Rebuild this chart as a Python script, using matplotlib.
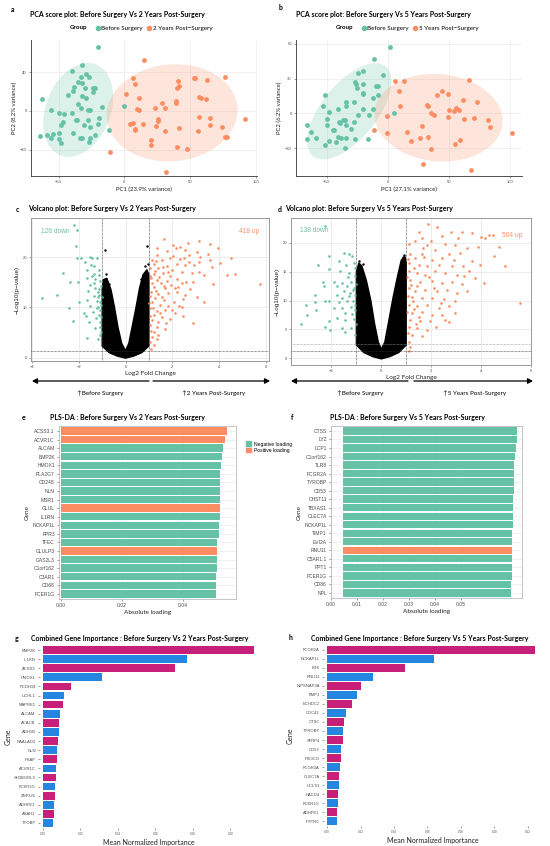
import numpy as np
import matplotlib
matplotlib.use('Agg')
import matplotlib.pyplot as plt
from matplotlib.patches import Ellipse, Patch, FancyArrowPatch
from matplotlib.lines import Line2D

W, H = 550, 846
GREEN = '#66C2A5'
ORANGE = '#FC8D62'
MAG = '#C8207A'
BLUE = '#2586E2'
TXT = '#4D4D4D'
TITLE_FONT = ['Lato', 'DejaVu Sans']
TICK_FONT = ['Liberation Sans', 'DejaVu Sans']

# ---------------- data: PCA (a) ----------------
a_before = np.array([
    [-20, 66], [-32, 47], [-40, 41], [-29, 38], [-33, 35], [-27, 35], [-35, 30], [-32, 29],
    [-38, 25], [-30, 24], [-24, 24], [-22, 24], [-39, 21], [-24, 19], [-43, 16], [-32, 15],
    [-29, 13], [-63, 12], [-17, 4], [-35, 7], [-33, 3], [-28, 1], [-26, 1], [-56, 1],
    [-50, -2], [-40, -2], [-37, -9], [-36, -9], [-28, -9], [-46, -3], [-47, -11], [-48, -15],
    [-19, -7], [-31, -15], [-20, -13], [-26, -17], [-50, -23], [-39, -23], [-12, -20],
    [-64, -26], [-59, -25], [-56, -28], [-54, -24], [-50, -29], [-34, -28], [-32, -28],
    [-26, -28], [-22, -25], [-48, -33], [-27, -32], [0, 5]])
a_after = np.array([
    [15, 52], [7, 34], [8, 28], [54, 34], [53, 34], [63, 32], [77, 35], [41, 31], [42, 26],
    [40, 24], [1, 17], [11, 13], [57, 14], [58, 13], [62, 12], [29, 8], [39, 10], [39, 8],
    [23, 3], [31, 3], [10, 2], [11, 1], [65, -7], [57, -6], [26, -8], [26, -10], [92, -8],
    [7, -12], [4, -13], [14, -13], [24, -16], [65, -15], [8, -19], [8, -20], [42, -18],
    [74, -17], [31, -21], [56, -21], [77, -27], [78, -27], [20, -30], [20, -35], [40, -37],
    [48, -39], [-11, -42], [32, -63]])

# ---------------- data: PCA (b) ----------------
b_before = np.array([
    [1.6, 57.6], [-11, 47], [-20, 37], [-24, 35], [-4, 33], [-27, 27], [-26, 25], [-25, 22],
    [-20, 25], [-20, 18], [-20, 17], [-10, 24], [-8, 24], [-8, 16], [-12, 13], [-51, 16],
    [-34, 10], [-28, 10], [-34, 6], [-41, 4], [-53, 6], [-20, 4], [-12, 4], [-24, -1],
    [-15, -1], [5, 0], [-48, 1], [-50, -5], [-40, -7], [-37, -6], [-35, -6], [-34, -10],
    [-39, -8], [-28, -7], [-50, -10], [-30, -13], [-45, -14], [-44, -14], [-66, -10],
    [-63, -16], [-59, -21], [-66, -22], [-41, -20], [-38, -21], [-34, -21], [-27, -22],
    [-16, -22], [-48, -24], [-42, -25], [-51, -27], [-35, -30]])
b_after = np.array([
    [-11, -14], [6, 28], [13, 28], [9, 19], [10, 6], [-1, -2], [-1, -17], [66, 29], [40, 16],
    [44, 19], [49, 17], [61, 12], [73, 10], [32, 7], [33, 6], [50, 3], [58, 3], [56, 5],
    [54, 2], [35, 0], [38, -1], [49, -3], [62, -5], [70, -4], [82, -6], [83, -12], [28, -11],
    [16, -16], [19, -24], [26, -21], [33, -20], [59, -23], [55, -26], [35, -31], [101, -17],
    [29, -44], [68, -49]])

# ---------------- data: volcano (c) ----------------
c_down = np.array([
    [-2.21, 26.5], [-2.06, 25.4], [-2.11, 22.3], [-2.06, 19.8], [-1.9, 19.8], [-1.54, 20.1],
    [-1.44, 19.8], [-1.23, 19.8], [-1.73, 19.1], [-1.5, 18.5], [-1.34, 18.3], [-2.67, 16.9],
    [-1.66, 17.5], [-1.33, 16.7], [-1.14, 16.5], [-1.63, 15.8], [-1.31, 15.6], [-1.09, 15.3],
    [-2.4, 15.0], [-2.03, 15.0], [-1.51, 14.5], [-1.29, 13.8], [-1.13, 13.7], [-3.6, 11.9],
    [-2.94, 12.5], [-1.34, 12.3], [-1.14, 12.5], [-1.63, 11.5], [-1.23, 11.3], [-2.0, 11.0],
    [-1.09, 11.0], [-1.51, 10.3], [-2.44, 9.8], [-1.23, 9.8], [-1.09, 9.5], [-1.76, 8.8],
    [-1.14, 8.5], [-2.23, 7.3], [-1.57, 7.1], [-1.09, 7.1], [-1.3, 5.9], [-1.63, 4.0],
    [-1.09, 4.5], [-1.16, 3.7], [-1.09, 6.1], [-1.7, 8.3], [-1.05, 14.2], [-1.2, 12.0],
    [-1.04, 10.5], [-1.18, 10.0], [-1.06, 8.0], [-1.25, 7.8], [-1.4, 9.0], [-1.02, 12.0],
    [-1.35, 14.8], [-1.12, 17.5], [-1.45, 16.2], [-1.03, 5.2], [-1.2, 13.0], [-1.6, 13.2]])
c_up = np.array([
    [3.17, 23.3], [3.63, 22.6], [2.67, 22.9], [2.34, 22.1], [1.63, 23.6], [2.03, 22.5],
    [3.97, 21.8], [3.53, 20.7], [3.06, 21.0], [2.53, 21.5], [2.17, 21.8], [1.34, 21.9],
    [1.77, 21.3], [2.71, 20.5], [3.2, 20.1], [1.34, 20.5], [4.54, 19.8], [3.13, 19.1],
    [2.74, 19.1], [2.34, 19.7], [1.91, 19.8], [1.56, 19.5], [1.13, 19.5], [1.2, 18.6],
    [1.77, 18.3], [2.2, 18.7], [2.56, 18.5], [2.94, 18.5], [3.69, 18.1], [4.06, 18.8],
    [1.06, 17.8], [1.41, 17.8], [1.99, 17.5], [2.41, 17.1], [1.84, 17.0], [1.6, 16.8],
    [1.23, 16.6], [2.84, 16.8], [3.17, 17.1], [4.34, 16.5], [3.37, 16.5], [1.1, 15.8],
    [1.34, 15.5], [1.77, 15.3], [2.2, 15.7], [2.6, 15.1], [1.51, 14.8], [1.97, 14.5],
    [2.41, 14.8], [2.91, 15.0], [3.77, 14.6], [5.76, 14.6], [1.23, 14.1], [1.7, 13.8],
    [1.09, 13.1], [1.41, 12.6], [1.84, 12.8], [2.2, 13.0], [2.56, 12.5], [3.06, 12.1],
    [1.27, 11.8], [1.63, 11.5], [2.06, 11.1], [2.46, 11.7], [1.13, 11.0], [1.49, 10.5],
    [1.84, 10.3], [3.37, 11.1], [1.06, 9.8], [1.34, 9.3], [1.7, 9.5], [2.41, 10.0],
    [2.13, 8.8], [1.2, 8.5], [1.56, 8.1], [2.46, 8.3], [1.13, 7.5], [1.41, 7.1], [1.91, 7.7],
    [2.91, 6.9], [1.06, 6.5], [1.34, 6.1], [1.7, 5.8], [1.23, 5.1], [1.13, 4.1], [1.34, 3.7],
    [1.06, 3.1], [1.2, 2.5], [1.09, 1.8], [1.05, 16.2], [1.15, 14.9], [1.3, 13.3],
    [1.05, 12.2], [1.45, 16.0], [1.25, 17.3], [1.55, 12.0], [1.02, 10.8], [1.18, 9.9],
    [1.48, 8.8], [1.03, 8.2], [1.08, 5.4], [1.65, 14.2], [1.9, 16.2], [2.1, 13.9],
    [2.3, 10.2], [1.6, 18.0], [2.05, 20.3], [2.5, 19.9], [4.7, 16.7], [3.62, 19.5],
    [1.32, 19.2], [1.75, 6.8], [2.0, 9.5], [1.4, 4.6], [2.25, 14.0], [2.75, 13.7]])
# envelope of the dense cloud of non-significant genes (|log2FC| < 1)
c_vshape = np.array([
    [0.0, -0.1], [-0.35, 0.3], [-0.7, 1.0], [-1.0, 2.3], [-1.0, 13.5], [-0.95, 15.5],
    [-0.8, 15.8], [-0.62, 13.5], [-0.47, 10.0], [-0.32, 6.0], [-0.16, 2.8], [0.0, 1.4],
    [0.14, 2.8], [0.3, 6.5], [0.45, 10.0], [0.6, 13.8], [0.75, 16.5], [0.92, 17.5],
    [1.0, 16.5], [1.0, 2.3], [0.7, 1.0], [0.35, 0.3]])
c_ns = np.array([[-0.9, 21.5], [0.93, 22.3], [-0.85, 16.6], [0.85, 18.2], [-0.97, 14.6],
                 [0.98, 18.6], [-0.7, 14.7], [0.65, 15.6]])

# ---------------- data: volcano (d) ----------------
d_down = np.array([
    [-2.25, 22.9], [-2.11, 17.7], [-2.54, 16.2], [-1.5, 18.3], [-1.31, 18.0], [-1.18, 17.7],
    [-1.71, 16.8], [-1.4, 16.2], [-1.11, 16.5], [-2.11, 15.5], [-1.64, 15.1], [-1.28, 14.8],
    [-1.07, 14.2], [-2.34, 13.2], [-1.91, 13.2], [-1.58, 13.0], [-1.2, 13.3], [-2.31, 12.5],
    [-1.78, 12.6], [-1.38, 12.5], [-1.11, 12.2], [-2.65, 11.0], [-1.51, 11.6], [-1.24, 11.3],
    [-1.04, 11.0], [-1.78, 11.0], [-2.25, 9.9], [-2.11, 10.0], [-3.01, 9.3], [-2.67, 9.7],
    [-1.58, 10.4], [-1.38, 9.9], [-1.15, 10.0], [-2.98, 7.5], [-2.62, 8.4], [-1.91, 8.7],
    [-1.58, 8.7], [-1.23, 8.8], [-1.07, 8.4], [-3.22, 5.9], [-2.11, 6.4], [-1.78, 7.0],
    [-1.44, 6.7], [-1.11, 6.8], [-2.25, 5.5], [-1.58, 5.3], [-1.2, 5.2], [-1.44, 4.5],
    [-1.04, 4.1], [-2.05, 4.9], [-1.05, 9.2], [-1.12, 11.8], [-1.3, 10.8], [-1.03, 12.8],
    [-1.16, 7.6], [-1.32, 14.0], [-1.06, 15.6], [-1.45, 7.9], [-1.7, 9.8], [-1.02, 6.0]])
d_up = np.array([
    [1.87, 23.2], [2.25, 22.8], [2.79, 21.9], [1.52, 21.9], [3.24, 21.9], [2.43, 21.2],
    [3.64, 21.7], [4.0, 21.0], [4.14, 20.8], [4.3, 21.4], [4.47, 21.4], [3.07, 20.9],
    [1.1, 19.8], [1.36, 20.3], [2.0, 20.3], [2.57, 19.8], [2.97, 19.7], [4.71, 19.3],
    [1.66, 19.1], [2.17, 18.8], [3.44, 19.1], [3.88, 19.2], [1.16, 18.1], [1.63, 18.0],
    [2.7, 18.0], [3.17, 18.3], [4.51, 17.7], [1.36, 17.4], [2.03, 17.1], [2.43, 17.4],
    [3.64, 16.8], [4.97, 15.9], [1.1, 16.5], [1.5, 16.2], [1.83, 15.9], [2.3, 16.2],
    [2.83, 15.9], [3.28, 15.9], [3.97, 16.2], [1.1, 15.1], [1.43, 14.8], [1.76, 14.5],
    [2.17, 15.1], [2.57, 14.8], [3.03, 14.5], [3.5, 15.1], [3.77, 13.9], [1.16, 13.6],
    [1.56, 13.2], [2.03, 13.4], [2.43, 13.0], [2.83, 13.3], [3.24, 12.8], [4.1, 13.0],
    [1.1, 12.2], [1.36, 11.6], [1.76, 11.9], [2.23, 11.6], [2.63, 11.9], [3.03, 11.3],
    [3.44, 11.6], [1.23, 10.7], [1.63, 10.4], [2.03, 10.4], [2.5, 10.3], [2.97, 10.0],
    [5.57, 9.6], [1.1, 9.3], [1.43, 9.0], [1.83, 9.3], [2.3, 8.7], [2.7, 9.0], [1.23, 7.8],
    [1.63, 8.0], [2.03, 7.5], [2.43, 7.5], [2.97, 7.8], [1.16, 6.7], [1.56, 6.4], [1.97, 6.5],
    [2.57, 6.7], [2.7, 6.3], [1.1, 5.5], [1.43, 5.2], [1.83, 4.9], [1.23, 4.1], [1.63, 3.8],
    [1.1, 2.9], [1.16, 2.0], [1.1, 1.2], [1.04, 14.0], [1.3, 15.6], [1.05, 10.8],
    [1.2, 12.7], [1.03, 8.1], [1.33, 8.6], [1.06, 17.2], [1.45, 12.5], [1.26, 9.9],
    [1.9, 14.1], [1.7, 17.5], [2.1, 12.2], [1.5, 7.1], [1.08, 4.3], [1.85, 19.7],
    [2.4, 9.6], [3.3, 14.2], [2.9, 17.1], [1.65, 20.9], [1.38, 5.9], [2.2, 5.5]])
d_vshape = np.array([
    [0.0, -0.1], [-0.35, 0.3], [-0.7, 1.0], [-1.0, 2.3], [-1.0, 15.0], [-0.9, 16.5],
    [-0.78, 16.0], [-0.6, 13.5], [-0.42, 10.0], [-0.27, 6.0], [-0.12, 2.8], [0.0, 1.6],
    [0.14, 2.8], [0.3, 6.5], [0.47, 10.5], [0.64, 14.0], [0.8, 17.0], [0.95, 17.6],
    [1.0, 16.5], [1.0, 2.3], [0.7, 1.0], [0.35, 0.3]])
d_ns = np.array([[-0.88, 16.8], [-0.75, 16.4], [0.9, 17.9], [0.85, 17.5], [-0.95, 15.8]])

# ---------------- data: PLS-DA (e, f) ----------------
e_genes = ['ACSS3.1', 'ACVR1C', 'ALCAM', 'BMP2K', 'HMOX1', 'PLA2G7', 'CD248', 'NLN', 'MSR1',
           'GLUL', 'IL1RN', 'NCKAP1L', 'FPR3', 'TFEC', 'GLULP3', 'GAS2L3', 'C1orf162',
           'C3AR1', 'CD68', 'FCER1G']
e_loading = [0.0544, 0.0538, 0.0531, 0.0528, 0.0525, 0.0522, 0.0522, 0.0522, 0.0521, 0.0521,
             0.0520, 0.0518, 0.0518, 0.0513, 0.0513, 0.0512, 0.0511, 0.0508, 0.0508, 0.0508]
e_positive = ['ACSS3.1', 'ACVR1C', 'GLUL', 'GLULP3']

f_genes = ['CTSS', 'LYZ', 'LCP1', 'C1orf162', 'TLR8', 'FCGR2A', 'TYROBP', 'CD53', 'CHST11',
           'TBXAS1', 'CLEC7A', 'NCKAP1L', 'TIMP1', 'EVI2A', 'RNU11', 'C5AR1.1', 'PPT1',
           'FCER1G', 'CD86', 'NPL']
f_loading = [0.0714, 0.0713, 0.0712, 0.0708, 0.0704, 0.0703, 0.0703, 0.0703, 0.0701, 0.0701,
             0.0700, 0.0700, 0.0697, 0.0697, 0.0697, 0.0695, 0.0695, 0.0695, 0.0693, 0.0693]
f_positive = ['RNU11']

# ---------------- data: combined importance (g, h) ----------------
g_genes = ['BMP2K', 'IL1RN', 'ACSS3', 'HMOX1', 'PCDH18', 'UCHL1', 'MAPRE1', 'ALCAM', 'ACACB',
           'ADH1B', 'NAALAD2', 'NLN', 'PSAP', 'ACVR1C', 'SH3BGRL3', 'FCER1G', 'ZNF326',
           'ADHFE1', 'ASAH1', 'TYOBP']
g_importance = [0.1125, 0.0770, 0.0702, 0.0313, 0.0149, 0.0112, 0.0105, 0.0092, 0.0087,
                0.0085, 0.0080, 0.0076, 0.0075, 0.0071, 0.0069, 0.0066, 0.0064, 0.0060,
                0.0059, 0.0055]
h_genes = ['FCGR2A', 'NCKAP1L', 'BTK', 'RNU11', 'NIPSNAP3A', 'TIMP1', 'ECHDC2', 'CDC42',
           'CTSC', 'TYROBP', 'SFRP4', 'CD53', 'PIK3CG', 'FCGR3A', 'CLEC7A', 'HCLS1', 'HACD4',
           'FCER1G', 'ADHFE1', 'PTPRC']
h_importance = [0.1244, 0.0637, 0.0468, 0.0277, 0.0201, 0.0177, 0.0151, 0.0113, 0.0099,
                0.0097, 0.0097, 0.0086, 0.0082, 0.0076, 0.0072, 0.0070, 0.0068, 0.0066,
                0.0060, 0.0058]


def add_ax(l, t, r, b):
    return fig.add_axes([l / W, 1 - b / H, (r - l) / W, (b - t) / H])


def ftext(x, y, s, **kw):
    kw.setdefault('family', TITLE_FONT)
    return fig.text(x / W, 1 - y / H, s, **kw)


def small_ticks(ax, size=3.2):
    for lab in ax.get_xticklabels() + ax.get_yticklabels():
        lab.set_family(TICK_FONT)
        lab.set_fontsize(size)
        lab.set_color(TXT)
    ax.tick_params(length=1.5, width=0.4, color='#555555', pad=1.5)


def ellipse(ax, pts, color, k=2.0):
    m = pts.mean(0)
    vals, vecs = np.linalg.eigh(np.cov(pts.T))
    ang = np.degrees(np.arctan2(vecs[1, 1], vecs[0, 1]))
    ax.add_patch(Ellipse(m, 2 * k * np.sqrt(vals[1]), 2 * k * np.sqrt(vals[0]), angle=ang,
                         fc=color, alpha=0.22, ec='none', zorder=1))


def pca(ax, before, after, xlim, ylim, xticks, yticks, xlab, ylab):
    ellipse(ax, before, GREEN)
    ellipse(ax, after, ORANGE)
    ax.scatter(before[:, 0], before[:, 1], s=12, color=GREEN, lw=0, zorder=3)
    ax.scatter(after[:, 0], after[:, 1], s=12, color=ORANGE, lw=0, zorder=3)
    ax.set_xlim(*xlim)
    ax.set_ylim(*ylim)
    ax.set_xticks(xticks)
    ax.set_yticks(yticks)
    ax.grid(color='#EBEBEB', lw=0.5)
    ax.set_axisbelow(True)
    for s in ['top', 'right']:
        ax.spines[s].set_visible(False)
    for s in ['left', 'bottom']:
        ax.spines[s].set_color('#333333')
        ax.spines[s].set_linewidth(0.6)
    small_ticks(ax, 3)
    ax.set_xlabel(xlab, fontsize=4.3, family=TITLE_FONT, color='#222222', labelpad=2)
    ax.set_ylabel(ylab, fontsize=4.3, family=TITLE_FONT, color='#222222', labelpad=2)


def volcano(ax, down, up, vshape, ns, xlim, ylim, xticks, yticks, hlines, ndown, nup,
            down_pos, up_pos):
    ax.fill(vshape[:, 0], vshape[:, 1], color='black', lw=1.0, zorder=2)
    ax.scatter(ns[:, 0], ns[:, 1], s=3, color='black', lw=0, zorder=2)
    ax.scatter(down[:, 0], down[:, 1], s=3.5, color=GREEN, lw=0, zorder=3)
    ax.scatter(up[:, 0], up[:, 1], s=3.5, color=ORANGE, lw=0, zorder=3)
    for v in [-1, 1]:
        ax.axvline(v, color='#333333', lw=0.5, ls=(0, (1, 1)), zorder=4)
    for hv, c in hlines:
        ax.axhline(hv, color=c, lw=0.5, ls=(0, (1, 1)), zorder=4)
    ax.set_xlim(*xlim)
    ax.set_ylim(*ylim)
    ax.set_xticks(xticks)
    ax.set_yticks(yticks)
    ax.grid(color='#E5E5E5', lw=0.5)
    ax.set_axisbelow(True)
    for s in ax.spines.values():
        s.set_color('#999999')
        s.set_linewidth(0.7)
    small_ticks(ax, 3)
    ax.text(down_pos[0], down_pos[1], ndown, color=GREEN, fontsize=4.8, family=TICK_FONT,
            ha='center', va='center')
    ax.text(up_pos[0], up_pos[1], nup, color=ORANGE, fontsize=4.8, family=TICK_FONT,
            ha='center', va='center')
    ax.set_xlabel('Log2 Fold Change', fontsize=4.6, family=TITLE_FONT, color='#222222',
                  labelpad=1.5)
    ax.set_ylabel('\u2212Log10(p\u2212value)', fontsize=4.6, family=TICK_FONT,
                  color='#222222', labelpad=2)


def plsda(ax, genes, vals, positive, base, xlim, xticks):
    y = np.arange(len(genes))
    vals = np.array(vals)
    cols = [ORANGE if g in positive else GREEN for g in genes]
    ax.barh(y, vals - base, left=base, height=0.86, color=cols, zorder=2)
    ax.set_yticks(y, genes)
    ax.set_ylim(len(genes) - 0.4, -0.58)
    ax.set_xlim(*xlim)
    ax.set_xticks(xticks, ['%.2f' % t for t in xticks])
    ax.grid(color='#EBEBEB', lw=0.5)
    ax.set_axisbelow(True)
    for s in ax.spines.values():
        s.set_color('#BBBBBB')
        s.set_linewidth(0.6)
    small_ticks(ax, 3.6)
    ax.set_xlabel('Absolute loading', fontsize=4.6, family=TITLE_FONT, color='#222222',
                  labelpad=1.5)
    ax.set_ylabel('Gene', fontsize=4.6, family=TITLE_FONT, color='#222222', labelpad=2)


def importance(ax, genes, vals, xlim, xticks):
    y = np.arange(len(genes))
    cols = [MAG if i % 2 == 0 else BLUE for i in range(len(genes))]
    ax.barh(y, vals, height=0.84, color=cols, zorder=2)
    ax.set_yticks(y, genes)
    ax.set_ylim(len(genes) - 0.45, -0.55)
    ax.set_xlim(*xlim)
    ax.set_xticks(xticks, ['%.2f' % t for t in xticks])
    for s in ax.spines.values():
        s.set_visible(False)
    small_ticks(ax, 3)
    for lab in ax.get_xticklabels():
        lab.set_fontsize(2.2)
    ax.set_xlabel('Mean Normalized Importance', fontsize=5, family=TITLE_FONT,
                  color='#222222', labelpad=2)
    ax.set_ylabel('Gene', fontsize=5, family=TITLE_FONT, color='#222222', labelpad=2)


fig = plt.figure(figsize=(W / 100, H / 100), dpi=100)

# ----- a -----
ax = add_ax(31, 40, 257, 176)
pca(ax, a_before, a_after, (-71, 101), (-67, 73), [-50, 0, 50, 100], [-40, 0, 40],
    'PC1 (23.9% variance)', 'PC2 (8.2% variance)')
ftext(11, 9, 'a', fontsize=5, weight='bold', va='center')
ftext(30, 15, 'PCA score plot: Before Surgery Vs 2 Years Post-Surgery', fontsize=5,
      weight='bold', va='center')
ftext(70, 28, 'Group', fontsize=4.5, weight='bold', va='center')
hd = [Line2D([], [], marker='o', ls='', color=GREEN, ms=3),
      Line2D([], [], marker='o', ls='', color=ORANGE, ms=3)]
fig.legend(hd, ['Before Surgery', '2 Years Post\u2212Surgery'], ncol=2,
           loc='center left', bbox_to_anchor=(92 / W, 1 - 28.5 / H), frameon=False,
           prop={'family': TITLE_FONT, 'size': 4.5}, handlelength=0.8,
           handletextpad=0.2, columnspacing=0.6, borderpad=0)

# ----- b -----
ax = add_ax(296, 40, 522, 176)
pca(ax, b_before, b_after, (-75, 109.5), (-54, 63.4), [-50, 0, 50, 100], [-30, 0, 30, 60],
    'PC1 (27.1% variance)', 'PC2 (6.2% variance)')
ftext(279, 8, 'b', fontsize=5, weight='bold', va='center')
ftext(296, 15, 'PCA score plot: Before Surgery Vs 5 Years Post-Surgery', fontsize=5,
      weight='bold', va='center')
ftext(336, 28, 'Group', fontsize=4.5, weight='bold', va='center')
fig.legend(hd, ['Before Surgery', '5 Years Post\u2212Surgery'], ncol=2,
           loc='center left', bbox_to_anchor=(358 / W, 1 - 28.5 / H), frameon=False,
           prop={'family': TITLE_FONT, 'size': 4.5}, handlelength=0.8,
           handletextpad=0.2, columnspacing=0.6, borderpad=0)

# ----- c -----
ax = add_ax(31, 218, 269, 361)
volcano(ax, c_down, c_up, c_vshape, c_ns, (-4.05, 6.15), (-0.67, 27.8), [-4, -2, 0, 2, 4, 6],
        [0, 10, 20], [(1.3, '#333333')], '126 down', '418 up', (-3.0, 25.2), (5.3, 25.2))
ftext(16, 209, 'c', fontsize=5, weight='bold', va='center')
ftext(28, 209, 'Volcano plot: Before Surgery Vs 2 Years Post-Surgery', fontsize=5,
      weight='bold', va='center')

# ----- d -----
ax = add_ax(291, 218, 531, 365)
volcano(ax, d_down, d_up, d_vshape, d_ns, (-3.62, 6.0), (-1.16, 24.3), [-2, 0, 2, 4, 6],
        [0, 5, 10, 15, 20], [(1.3, '#333333'), (2.5, '#999999')], '138 down', '504 up',
        (-2.7, 22.1), (5.25, 21.2))
ftext(278, 209, 'd', fontsize=5, weight='bold', va='center')
ftext(285, 209, 'Volcano plot: Before Surgery Vs 5 Years Post-Surgery', fontsize=5,
      weight='bold', va='center')

# direction arrows under the volcano plots
for (x0, xm1, xm2, x1) in [(32, 149, 153, 270), (291, 408, 414, 533)]:
    for xa, xb in [(xm1, x0), (xm2, x1)]:
        fig.add_artist(FancyArrowPatch(
            (xa / W, 1 - 381 / H), (xb / W, 1 - 381 / H), transform=fig.transFigure,
            arrowstyle='-|>,head_length=3,head_width=1.6', lw=0.9, color='black',
            shrinkA=0, shrinkB=0))
ftext(77, 393, '\u2191Before Surgery', fontsize=4.5, va='center')
ftext(182, 393, '\u2191' + '2 Years Post-Surgery', fontsize=4.5, va='center')
ftext(337, 393, '\u2191Before Surgery', fontsize=4.5, va='center')
ftext(443, 393, '\u2191' + '5 Years Post-Surgery', fontsize=4.5, va='center')

# ----- e -----
ax = add_ax(59, 426, 236, 599)
plsda(ax, e_genes, e_loading, e_positive, 0.0, (-0.0007, 0.0574), [0.0, 0.02, 0.04])
ftext(22, 417, 'e', fontsize=5, weight='bold', va='center')
ftext(50, 417, 'PLS-DA : Before Surgery Vs 2 Years Post-Surgery', fontsize=5,
      weight='bold', va='center')
fig.legend([Patch(color=GREEN), Patch(color=ORANGE)], ['Negative loading', 'Positive loading'],
           loc='upper left', bbox_to_anchor=(243 / W, 1 - 439 / H), frameon=False,
           prop={'family': TICK_FONT, 'size': 3.6}, handlelength=1.1, handleheight=1.1,
           handletextpad=0.5, labelspacing=0.2, borderpad=0)

# ----- f -----
ax = add_ax(331, 426, 522, 598)
plsda(ax, f_genes, f_loading, f_positive, 0.0047, (0.0, 0.0734),
      [0.0, 0.01, 0.02, 0.03, 0.04, 0.05])
ftext(291, 417, 'f', fontsize=5, weight='bold', va='center')
ftext(330, 417, 'PLS-DA : Before Surgery Vs 5 Years Post-Surgery', fontsize=5,
      weight='bold', va='center')

# ----- g -----
ax = add_ax(40, 645, 258, 828)
importance(ax, g_genes, g_importance, (-0.0016, 0.1147), [0.0, 0.02, 0.04, 0.06, 0.08, 0.10])
ftext(15, 638, 'g', fontsize=5, weight='bold', va='center')
ftext(31, 638, 'Combined Gene Importance : Before Surgery Vs 2 Years Post-Surgery',
      fontsize=5, weight='bold', va='center')

# ----- h -----
ax = add_ax(324, 645, 541, 826)
importance(ax, h_genes, h_importance, (-0.0018, 0.1278),
           [0.0, 0.02, 0.04, 0.06, 0.08, 0.10, 0.12])
ftext(289, 637, 'h', fontsize=5, weight='bold', va='center')
ftext(311, 638, 'Combined Gene Importance : Before Surgery Vs 5 Years Post-Surgery',
      fontsize=5, weight='bold', va='center')

fig.savefig('out.png', dpi=100, facecolor='white')
